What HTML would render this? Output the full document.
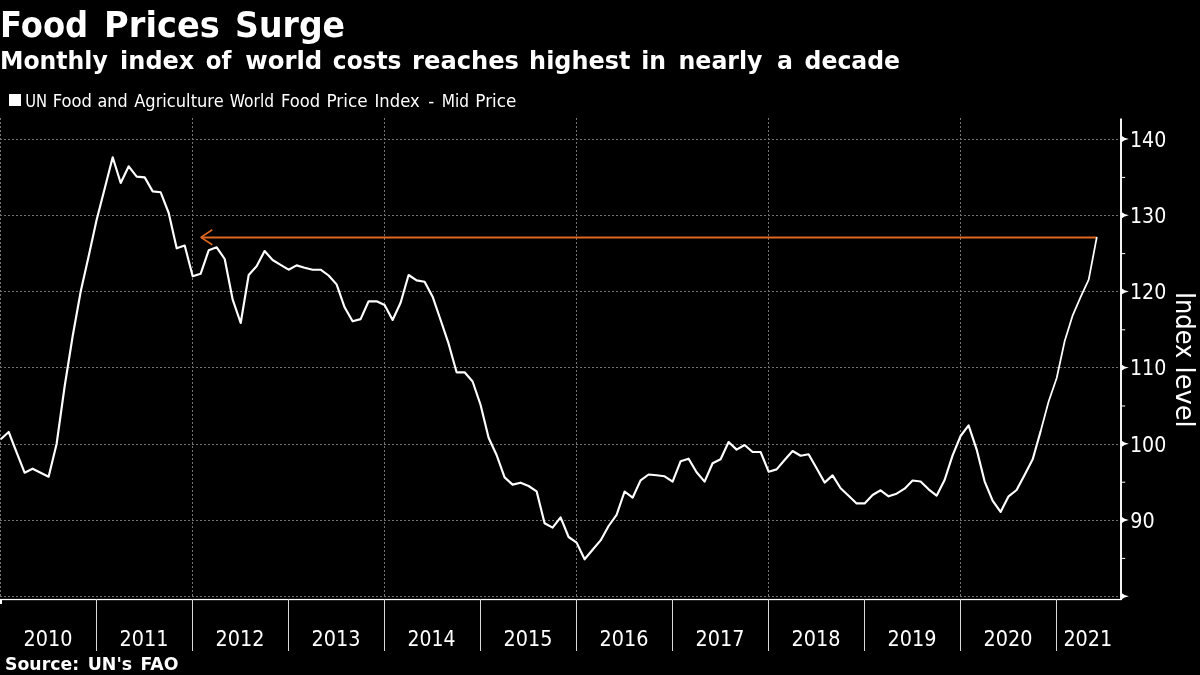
<!DOCTYPE html>
<html lang="en"><head><meta charset="utf-8"><title>Food Prices Surge</title>
<style>
html,body{margin:0;padding:0;background:#000;}
body{width:1200px;height:675px;overflow:hidden;}
svg{display:block;}
text{font-family:"DejaVu Sans","Liberation Sans",sans-serif;fill:#fff;}
.b{font-weight:bold;}
.c{font-family:"DejaVu Sans Condensed","DejaVu Sans","Liberation Sans",sans-serif;}
.g{stroke:#727272;stroke-width:1;stroke-dasharray:2 2;fill:none;shape-rendering:crispEdges;}
</style></head><body>
<svg width="1200" height="675" viewBox="0 0 1200 675">
<rect width="1200" height="675" fill="#000"/>
<text class="b" y="36.8" font-size="35"><tspan x="-0.02" textLength="88.21" lengthAdjust="spacingAndGlyphs">Food</tspan> <tspan x="104.11" textLength="115.69" lengthAdjust="spacingAndGlyphs">Prices</tspan> <tspan x="235.11" textLength="109.99" lengthAdjust="spacingAndGlyphs">Surge</tspan></text>
<text class="b" y="69.05" font-size="25.3"><tspan x="-0.06" textLength="107.79" lengthAdjust="spacingAndGlyphs">Monthly</tspan> <tspan x="120.10" textLength="74.20" lengthAdjust="spacingAndGlyphs">index</tspan> <tspan x="205.80" textLength="25.61" lengthAdjust="spacingAndGlyphs">of</tspan> <tspan x="245.30" textLength="76.93" lengthAdjust="spacingAndGlyphs">world</tspan> <tspan x="332.83" textLength="68.64" lengthAdjust="spacingAndGlyphs">costs</tspan> <tspan x="412.09" textLength="106.92" lengthAdjust="spacingAndGlyphs">reaches</tspan> <tspan x="529.11" textLength="101.28" lengthAdjust="spacingAndGlyphs">highest</tspan> <tspan x="641.14" textLength="24.80" lengthAdjust="spacingAndGlyphs">in</tspan> <tspan x="678.53" textLength="83.99" lengthAdjust="spacingAndGlyphs">nearly</tspan> <tspan x="777.07" textLength="15.93" lengthAdjust="spacingAndGlyphs">a</tspan> <tspan x="804.57" textLength="95.51" lengthAdjust="spacingAndGlyphs">decade</tspan></text>
<rect x="9" y="94" width="12" height="12" fill="#fff"/>
<text y="106.7" font-size="17.1"><tspan x="25.24" textLength="21.84" lengthAdjust="spacingAndGlyphs">UN</tspan> <tspan x="52.64" textLength="39.27" lengthAdjust="spacingAndGlyphs">Food</tspan> <tspan x="97.46" textLength="30.13" lengthAdjust="spacingAndGlyphs">and</tspan> <tspan x="134.20" textLength="89.49" lengthAdjust="spacingAndGlyphs">Agriculture</tspan> <tspan x="229.70" textLength="44.47" lengthAdjust="spacingAndGlyphs">World</tspan> <tspan x="280.94" textLength="39.27" lengthAdjust="spacingAndGlyphs">Food</tspan> <tspan x="326.41" textLength="41.20" lengthAdjust="spacingAndGlyphs">Price</tspan> <tspan x="374.54" textLength="45.07" lengthAdjust="spacingAndGlyphs">Index</tspan> <tspan x="428.20" textLength="5.96" lengthAdjust="spacingAndGlyphs">-</tspan> <tspan x="441.80" textLength="27.26" lengthAdjust="spacingAndGlyphs">Mid</tspan> <tspan x="475.31" textLength="41.09" lengthAdjust="spacingAndGlyphs">Price</tspan></text>
<line class="g" x1="0" y1="139.5" x2="1120" y2="139.5"/>
<line class="g" x1="0" y1="215.5" x2="1120" y2="215.5"/>
<line class="g" x1="0" y1="291.5" x2="1120" y2="291.5"/>
<line class="g" x1="0" y1="367.5" x2="1120" y2="367.5"/>
<line class="g" x1="0" y1="444.5" x2="1120" y2="444.5"/>
<line class="g" x1="0" y1="520.5" x2="1120" y2="520.5"/>
<line class="g" x1="0" y1="596.5" x2="1120" y2="596.5"/>
<line class="g" style="stroke:#747474" x1="0.5" y1="118" x2="0.5" y2="598"/>
<line class="g" style="stroke:#747474" x1="192.5" y1="118" x2="192.5" y2="598"/>
<line class="g" style="stroke:#747474" x1="384.5" y1="118" x2="384.5" y2="598"/>
<line class="g" style="stroke:#747474" x1="576.5" y1="118" x2="576.5" y2="598"/>
<line class="g" style="stroke:#747474" x1="768.5" y1="118" x2="768.5" y2="598"/>
<line class="g" style="stroke:#747474" x1="960.5" y1="118" x2="960.5" y2="598"/>
<rect x="0" y="598.9" width="1122" height="1.25" fill="#fff"/>
<rect x="0" y="599" width="2" height="5" fill="#fff"/>
<rect x="96" y="599" width="1" height="52" fill="#d8d8d8"/>
<rect x="192" y="599" width="1" height="52" fill="#d8d8d8"/>
<rect x="288" y="599" width="1" height="52" fill="#d8d8d8"/>
<rect x="384" y="599" width="1" height="52" fill="#d8d8d8"/>
<rect x="480" y="599" width="1" height="52" fill="#d8d8d8"/>
<rect x="576" y="599" width="1" height="52" fill="#d8d8d8"/>
<rect x="672" y="599" width="1" height="52" fill="#d8d8d8"/>
<rect x="768" y="599" width="1" height="52" fill="#d8d8d8"/>
<rect x="864" y="599" width="1" height="52" fill="#d8d8d8"/>
<rect x="960" y="599" width="1" height="52" fill="#d8d8d8"/>
<rect x="1056" y="599" width="1" height="52" fill="#d8d8d8"/>
<rect x="1120.05" y="118.5" width="1.9" height="481.5" fill="#fff"/>
<path d="M1121.5 593.0 Q1124 595.2 1128.9 596.2 Q1124 597.2 1121.5 599.4 Z" fill="#fff"/>
<rect x="1121" y="557.9" width="4.2" height="1" fill="#fff"/>
<path d="M1121.5 516.8 Q1124 519.0 1128.9 520.0 Q1124 521.0 1121.5 523.2 Z" fill="#fff"/>
<rect x="1121" y="481.7" width="4.2" height="1" fill="#fff"/>
<path d="M1121.5 440.6 Q1124 442.8 1128.9 443.8 Q1124 444.8 1121.5 447.0 Z" fill="#fff"/>
<rect x="1121" y="405.5" width="4.2" height="1" fill="#fff"/>
<path d="M1121.5 364.4 Q1124 366.6 1128.9 367.6 Q1124 368.6 1121.5 370.8 Z" fill="#fff"/>
<rect x="1121" y="329.3" width="4.2" height="1" fill="#fff"/>
<path d="M1121.5 288.2 Q1124 290.4 1128.9 291.4 Q1124 292.4 1121.5 294.6 Z" fill="#fff"/>
<rect x="1121" y="253.1" width="4.2" height="1" fill="#fff"/>
<path d="M1121.5 212.0 Q1124 214.2 1128.9 215.2 Q1124 216.2 1121.5 218.4 Z" fill="#fff"/>
<rect x="1121" y="176.9" width="4.2" height="1" fill="#fff"/>
<path d="M1121.5 135.8 Q1124 138.0 1128.9 139.0 Q1124 140.0 1121.5 142.2 Z" fill="#fff"/>
<text class="c" x="1130.02" y="147" font-size="21.4" textLength="36.30" lengthAdjust="spacingAndGlyphs">140</text>
<text class="c" x="1130.02" y="223" font-size="21.4" textLength="36.30" lengthAdjust="spacingAndGlyphs">130</text>
<text class="c" x="1130.02" y="299" font-size="21.4" textLength="36.30" lengthAdjust="spacingAndGlyphs">120</text>
<text class="c" x="1130.02" y="375" font-size="21.4" textLength="36.30" lengthAdjust="spacingAndGlyphs">110</text>
<text class="c" x="1130.02" y="452" font-size="21.4" textLength="36.30" lengthAdjust="spacingAndGlyphs">100</text>
<text class="c" x="1130.20" y="528" font-size="21.4" textLength="24.44" lengthAdjust="spacingAndGlyphs">90</text>
<text class="c" x="23.50" y="646" font-size="21.3" textLength="48.89" lengthAdjust="spacingAndGlyphs">2010</text>
<text class="c" x="119.50" y="646" font-size="21.3" textLength="48.89" lengthAdjust="spacingAndGlyphs">2011</text>
<text class="c" x="215.50" y="646" font-size="21.3" textLength="48.89" lengthAdjust="spacingAndGlyphs">2012</text>
<text class="c" x="311.50" y="646" font-size="21.3" textLength="48.89" lengthAdjust="spacingAndGlyphs">2013</text>
<text class="c" x="407.52" y="646" font-size="21.3" textLength="47.87" lengthAdjust="spacingAndGlyphs">2014</text>
<text class="c" x="503.50" y="646" font-size="21.3" textLength="48.89" lengthAdjust="spacingAndGlyphs">2015</text>
<text class="c" x="599.50" y="646" font-size="21.3" textLength="48.89" lengthAdjust="spacingAndGlyphs">2016</text>
<text class="c" x="695.50" y="646" font-size="21.3" textLength="48.89" lengthAdjust="spacingAndGlyphs">2017</text>
<text class="c" x="791.50" y="646" font-size="21.3" textLength="48.89" lengthAdjust="spacingAndGlyphs">2018</text>
<text class="c" x="887.50" y="646" font-size="21.3" textLength="48.89" lengthAdjust="spacingAndGlyphs">2019</text>
<text class="c" x="983.50" y="646" font-size="21.3" textLength="48.89" lengthAdjust="spacingAndGlyphs">2020</text>
<text class="c" x="1063.40" y="646" font-size="21.3" textLength="48.89" lengthAdjust="spacingAndGlyphs">2021</text>
<text class="c" transform="translate(1175.6 0) rotate(90)" y="0" font-size="27.3"><tspan x="291.93" textLength="66.49" lengthAdjust="spacingAndGlyphs">Index</tspan> <tspan x="366.61" textLength="61.10" lengthAdjust="spacingAndGlyphs">level</tspan></text>
<g stroke="#de6721" stroke-width="2" fill="none"><line x1="201.2" y1="237.4" x2="1096.2" y2="237.4"/><polyline stroke-width="1.7" stroke-linejoin="bevel" points="212.3,229.8 200.9,237.4 212.3,244.7"/></g>
<polyline points="0.7,439.3 8.7,432.0 16.6,452.3 24.6,472.7 32.6,468.7 40.6,472.7 48.6,476.7 56.6,444.0 64.7,386.0 72.7,336.0 80.7,291.5 88.7,256.0 96.7,219.6 104.7,188.5 112.7,157.3 120.7,183.0 128.7,166.3 136.7,176.6 144.7,177.4 152.7,191.4 160.7,192.3 168.7,213.0 176.7,248.3 184.7,245.5 192.7,276.3 200.7,273.7 208.7,250.3 216.7,247.3 224.7,259.0 232.7,299.7 240.7,323.0 248.7,275.0 256.6,266.3 264.6,251.0 272.6,260.0 280.6,264.8 288.6,269.7 296.6,265.4 304.6,267.7 312.6,269.7 320.6,269.7 328.6,275.5 336.6,284.4 344.6,307.3 352.6,321.3 360.6,319.1 368.6,301.3 376.6,301.3 384.6,305.0 392.6,320.0 400.6,302.7 408.6,275.0 416.6,280.4 424.6,281.7 432.6,296.7 440.6,320.0 448.6,343.7 456.6,372.3 464.6,372.3 472.6,381.5 480.6,405.0 488.6,437.7 496.6,455.0 504.6,477.4 512.6,484.6 520.6,482.7 528.6,486.0 536.6,491.3 544.6,523.2 552.6,527.6 560.6,517.4 568.6,537.0 576.6,542.6 584.6,559.3 592.6,549.7 600.6,540.4 608.6,526.0 616.6,514.8 624.6,491.5 632.6,497.7 640.6,480.4 648.6,474.5 656.6,475.3 664.6,476.3 672.6,481.6 680.6,461.3 688.6,458.7 696.6,472.3 704.6,481.6 712.6,463.3 720.6,459.3 728.6,442.0 736.6,449.6 744.6,445.0 752.6,452.0 760.6,452.0 768.6,471.7 776.6,469.4 784.6,460.0 792.6,451.0 800.6,455.7 808.6,454.3 816.6,468.3 824.6,482.6 832.6,475.4 840.6,488.3 848.6,495.7 856.6,503.4 864.6,503.4 872.6,495.0 880.6,490.3 888.6,496.3 896.6,493.7 904.6,488.7 912.6,480.5 920.6,481.5 928.6,489.3 936.6,495.7 944.6,480.0 952.6,455.3 960.6,436.0 968.6,425.3 976.6,449.3 984.6,481.3 992.6,500.7 1000.6,511.9 1008.6,496.3 1016.6,490.0 1024.7,474.7 1032.7,459.3 1040.7,431.0" fill="none" stroke="#fff" stroke-width="2.15" stroke-linejoin="round" stroke-linecap="butt"/>
<polyline points="1040.7,431.0 1048.7,401.3 1056.7,378.0 1064.7,341.0 1072.7,315.3 1080.7,296.9 1088.7,279.7 1096.7,237.7" fill="none" stroke="#fff" stroke-width="1.75" stroke-linejoin="round" stroke-linecap="round"/>
<text class="b" y="669.6" font-size="18.1"><tspan x="5.04" textLength="74.04" lengthAdjust="spacingAndGlyphs">Source:</tspan> <tspan x="87.74" textLength="44.40" lengthAdjust="spacingAndGlyphs">UN's</tspan> <tspan x="140.44" textLength="38.02" lengthAdjust="spacingAndGlyphs">FAO</tspan></text>
</svg></body></html>
